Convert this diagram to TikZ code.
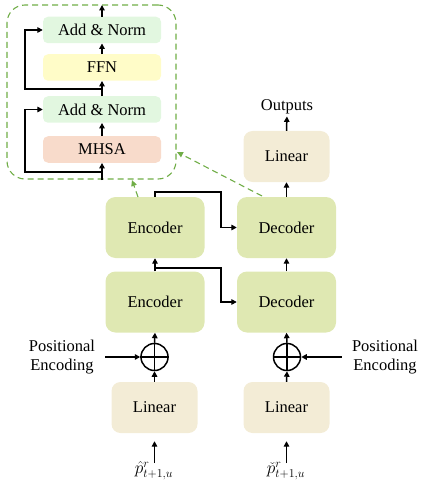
\documentclass[tikz,border=0pt]{standalone}
\usepackage{fontspec}
\setmainfont{Liberation Serif}
\usetikzlibrary{arrows.meta}
\definecolor{anc}{RGB}{226,247,224}
\definecolor{ffnc}{RGB}{255,252,200}
\definecolor{mhc}{RGB}{248,219,203}
\definecolor{encc}{RGB}{223,232,178}
\definecolor{linc}{RGB}{243,236,214}
\definecolor{dgreen}{RGB}{112,173,71}
\begin{document}
\begin{tikzpicture}[x=1pt,y=-1pt,
  txt/.style={font=\fontsize{16.5}{19}\selectfont},
  mtxt/.style={font=\fontsize{18}{22}\selectfont},
  sbox/.style={txt,rounded corners=5pt,minimum width=118pt,minimum height=26.5pt,inner sep=0pt},
  bbox/.style={txt,rounded corners=10pt,minimum width=99pt,minimum height=61pt,inner sep=0pt,fill=encc},
  lbox/.style={txt,rounded corners=9pt,minimum width=86pt,minimum height=51pt,inner sep=0pt,fill=linc},
  arr/.style={line width=1.5pt,-{Triangle[length=5.5pt,width=5.5pt]}},
  ln/.style={line width=1.5pt},
  garr/.style={draw=dgreen,line width=1.1pt,dash pattern=on 6pt off 4pt,-{Triangle[length=6pt,width=5.5pt]}},
  pls/.style={circle,draw,line width=1.5pt,minimum size=27pt,inner sep=0pt}
]
\useasboundingbox (0,0) rectangle (420,481);

% detail block
\node (blk) [draw=dgreen,line width=1.1pt,dash pattern=on 6pt off 4pt,rounded corners=18pt,minimum width=169pt,minimum height=174pt,inner sep=0pt] at (91.5,92) {};
\node (an1) [sbox,fill=anc] at (102,30) {Add \& Norm};
\node (ffn) [sbox,fill=ffnc] at (102,67.5) {FFN};
\node (an2) [sbox,fill=anc] at (102,109.5) {Add \& Norm};
\node (mhsa) [sbox,fill=mhc] at (102,149.5) {MHSA};
\coordinate (otop) at (102,5);
\coordinate (j1) at (102,89);
\coordinate (s1) at (25,89);
\coordinate (bin) at (102,180);
\coordinate (j2) at (102,172);
\coordinate (s2) at (25,172);

\draw[arr] (an1.north) -- (otop);
\draw[arr] (ffn.north) -- (an1.south);
\draw[arr] (an2.north) -- (ffn.south);
\draw[arr] (mhsa.north) -- (an2.south);
\draw[arr] (bin) -- (mhsa.south);
\draw[arr] (j1) -- (s1) |- (an1.west);
\draw[arr] (j2) -- (s2) |- (an2.west);

% main stack
\node (enc2) [bbox] at (155,227.5) {Encoder};
\node (dec2) [bbox] at (286.5,227.5) {Decoder};
\node (enc1) [bbox] at (155,302) {Encoder};
\node (dec1) [bbox] at (286.5,302) {Decoder};
\node (lin3) [lbox] at (286.5,156.5) {Linear};
\node (out) [txt,inner sep=0pt] at (287,107) {Outputs};

\coordinate (j3) at (155,268);
\coordinate (t1) at (221,268);
\coordinate (j4) at (155,192);
\coordinate (t2) at (221,192);

\draw[arr] (enc1.north) -- (enc2.south);
\draw[arr] (dec1.north) -- (dec2.south);
\draw[arr] (dec2.north) -- (lin3.south);
\draw[arr,shorten >=2pt] (lin3.north) -- (out.south);
\draw[arr] (j3) -- (t1) |- (dec1.west);
\draw[arr] (enc2.north) -- (j4) -- (t2) |- (dec2.west);

% green zoom lines
\coordinate (g1s) at (138,197);
\coordinate (g1e) at (132,180);
\coordinate (g2s) at (262,196);
\coordinate (g2e) at (177,152);
\draw[garr] (g1s) -- (g1e);
\draw[garr] (g2s) -- (g2e);

% bottom
\node (p1) [pls] at (154.5,357) {};
\node (p2) [pls] at (287,357) {};
\draw[ln] (p1.north) -- (p1.south) (p1.west) -- (p1.east);
\draw[ln] (p2.north) -- (p2.south) (p2.west) -- (p2.east);
\node (lin1) [lbox] at (154.5,407.5) {Linear};
\node (lin2) [lbox] at (286.5,407.5) {Linear};
\node (pe1) [txt,align=center,inner sep=0pt] at (62,357) {Positional\\Encoding};
\node (pe2) [txt,align=center,inner sep=0pt] at (385,357) {Positional\\Encoding};
\node (in1) [mtxt,inner sep=0pt] at (154,471) {$\hat{p}^{r}_{t+1,u}$};
\node (in2) [mtxt,inner sep=0pt] at (286,471) {$\check{p}^{r}_{t+1,u}$};

\draw[arr] (p1.north) -- (enc1.south);
\draw[arr] (p2.north) -- (dec1.south);
\draw[arr] (lin1.north) -- (p1.south);
\draw[arr] (lin2.north) -- (p2.south);
\draw[arr,shorten <=10pt] (pe1.east) -- (p1.west);
\draw[arr,shorten <=10pt] (pe2.west) -- (p2.east);
\coordinate (i1) at (154.5,463);
\coordinate (i2) at (286.5,463);
\draw[arr,shorten >=8pt] (i1) -- (lin1.south);
\draw[arr,shorten >=8pt] (i2) -- (lin2.south);
\end{tikzpicture}
\end{document}
